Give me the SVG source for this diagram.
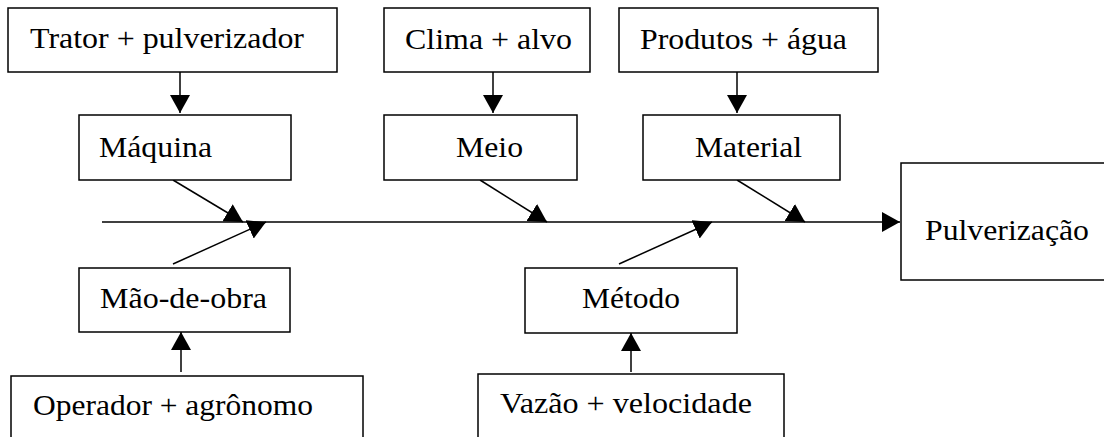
<svg xmlns="http://www.w3.org/2000/svg" width="1104" height="437" viewBox="0 0 1104 437">
<style>
.box{fill:#fff;stroke:#000;stroke-width:1.5}
.lbl{font-family:"Liberation Serif","Times New Roman",serif;font-size:29px;fill:#000}
.con{stroke:#000;stroke-width:1.5;fill:none}
</style>
<defs>
<marker id="ah" markerUnits="userSpaceOnUse" markerWidth="20" markerHeight="20" refX="18" refY="10" orient="auto">
<path d="M0,0 L18,10 L0,20 z" fill="#000"/>
</marker>
</defs>
<rect width="1104" height="437" fill="#fff"/>
<g id="connectors">
<line class="con" x1="102" y1="222" x2="900" y2="222" marker-end="url(#ah)"/>
<line class="con" x1="180" y1="72" x2="180" y2="113" marker-end="url(#ah)"/>
<line class="con" x1="493" y1="72" x2="493" y2="113" marker-end="url(#ah)"/>
<line class="con" x1="737" y1="72" x2="737" y2="113" marker-end="url(#ah)"/>
<line class="con" x1="173" y1="180" x2="243" y2="222" marker-end="url(#ah)"/>
<line class="con" x1="480" y1="180" x2="547" y2="222" marker-end="url(#ah)"/>
<line class="con" x1="737" y1="180" x2="805" y2="222" marker-end="url(#ah)"/>
<line class="con" x1="173" y1="264" x2="266" y2="222" marker-end="url(#ah)"/>
<line class="con" x1="619" y1="264" x2="712" y2="222" marker-end="url(#ah)"/>
<line class="con" x1="181" y1="372" x2="181" y2="332" marker-end="url(#ah)"/>
<line class="con" x1="631" y1="372" x2="631" y2="333" marker-end="url(#ah)"/>
</g>
<g id="trator"><rect class="box" x="8" y="8" width="329" height="64"/><text class="lbl" x="30" y="48" textLength="274" lengthAdjust="spacingAndGlyphs">Trator + pulverizador</text></g>
<g id="clima"><rect class="box" x="384" y="8" width="206" height="64"/><text class="lbl" x="405" y="49" textLength="167" lengthAdjust="spacingAndGlyphs">Clima + alvo</text></g>
<g id="produtos"><rect class="box" x="619" y="8" width="259" height="64"/><text class="lbl" x="640" y="49" textLength="207" lengthAdjust="spacingAndGlyphs">Produtos + água</text></g>
<g id="maquina"><rect class="box" x="79" y="115" width="212" height="65"/><text class="lbl" x="99" y="157" textLength="113" lengthAdjust="spacingAndGlyphs">Máquina</text></g>
<g id="meio"><rect class="box" x="384" y="115" width="193" height="65"/><text class="lbl" x="456" y="157" textLength="67" lengthAdjust="spacingAndGlyphs">Meio</text></g>
<g id="material"><rect class="box" x="643" y="115" width="197" height="65"/><text class="lbl" x="695" y="157" textLength="107" lengthAdjust="spacingAndGlyphs">Material</text></g>
<g id="pulverizacao"><rect class="box" x="901" y="163" width="220" height="117"/><text class="lbl" x="925" y="240" textLength="164" lengthAdjust="spacingAndGlyphs">Pulverização</text></g>
<g id="maodeobra"><rect class="box" x="79" y="268" width="211" height="64"/><text class="lbl" x="100" y="308" textLength="167" lengthAdjust="spacingAndGlyphs">Mão-de-obra</text></g>
<g id="metodo"><rect class="box" x="525" y="268" width="212" height="65"/><text class="lbl" x="582" y="308" textLength="98" lengthAdjust="spacingAndGlyphs">Método</text></g>
<g id="operador"><rect class="box" x="11" y="376" width="352" height="80"/><text class="lbl" x="33" y="415" textLength="280" lengthAdjust="spacingAndGlyphs">Operador + agrônomo</text></g>
<g id="vazao"><rect class="box" x="478" y="374" width="306" height="80"/><text class="lbl" x="500" y="413" textLength="252" lengthAdjust="spacingAndGlyphs">Vazão + velocidade</text></g>
</svg>
